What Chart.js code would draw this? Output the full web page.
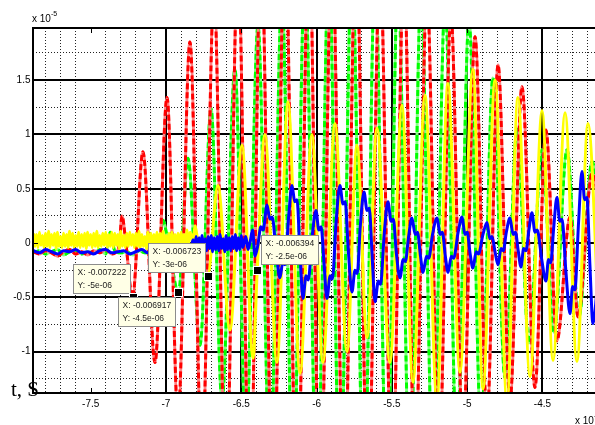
<!DOCTYPE html>
<html>
<head>
<meta charset="utf-8">
<script src="https://cdn.jsdelivr.net/npm/chart.js@4/dist/chart.umd.min.js"></script>
<style>
  html, body { margin: 0; padding: 0; background: #fff; overflow: hidden; width: 595px; height: 425px; }
  #wrap { position: relative; width: 612px; height: 425px; }
</style>
</head>
<body>
<div id="wrap"><canvas id="c" width="612" height="425"></canvas></div>
<script>
// Time axis in units of 1e-3 s, amplitude in units of 1e-5.
const X_MIN = -7.883, X_MAX = -4.118;
const Y_MIN = -1.38, Y_MAX = 1.98;

const xTickValues = [-7.5, -7, -6.5, -6, -5.5, -5, -4.5];
const xTickLabels = ['-7.5', '-7', '-6.5', '-6', '-5.5', '-5', '-4.5'];
const yTickValues = [-1, -0.5, 0, 0.5, 1, 1.5];
const yTickLabels = ['-1', '-0.5', '0', '0.5', '1', '1.5'];

// Channel 1 (red)
const redData = [
  [-7.88,-0.08],[-7.84,-0.10],[-7.80,-0.07],[-7.76,-0.09],[-7.72,-0.12],[-7.68,-0.08],[-7.64,-0.06],
  [-7.60,-0.10],[-7.56,-0.08],[-7.52,-0.11],[-7.48,-0.07],[-7.44,-0.09],[-7.40,-0.06],[-7.36,-0.10],
  [-7.33,-0.08],[-7.31,-0.02],[-7.292,0.25],[-7.27,0.05],[-7.222,-0.5],[-7.153,0.84],[-7.073,-1.1],
  [-6.993,1.34],[-6.920,-1.6],[-6.841,1.85],[-6.761,-2.0],[-6.681,2.3],[-6.602,-2.3],[-6.522,2.6],
  [-6.442,-2.5],[-6.369,2.8],[-6.289,-2.6],[-6.210,2.9],[-6.130,-2.6],[-6.050,2.9],[-5.977,-2.6],
  [-5.898,2.8],[-5.818,-2.5],[-5.738,2.8],[-5.659,-2.4],[-5.579,2.6],[-5.499,-2.3],[-5.420,2.5],
  [-5.347,-2.1],[-5.267,2.3],[-5.187,-2.0],[-5.108,2.1],[-5.028,-1.8],[-4.948,1.9],[-4.868,-1.6],
  [-4.795,1.64],[-4.716,-1.45],[-4.636,1.44],[-4.550,-1.33],[-4.477,1.04],[-4.404,-0.9],[-4.317,0.24],
  [-4.264,-0.68],[-4.171,0.64],[-4.10,0.1]
];

// Channel 2 (green)
const greenData = [
  [-7.88,-0.09],[-7.84,-0.07],[-7.80,-0.10],[-7.76,-0.08],[-7.72,-0.06],[-7.68,-0.11],[-7.64,-0.08],
  [-7.60,-0.07],[-7.56,-0.10],[-7.52,-0.08],[-7.48,-0.09],[-7.44,-0.06],[-7.40,-0.10],[-7.37,0.10],
  [-7.34,-0.07],[-7.30,-0.09],[-7.26,-0.08],[-7.22,-0.11],[-7.18,-0.07],[-7.14,-0.09],[-7.10,-0.08],
  [-7.06,-0.06],[-7.04,0.05],[-7.02,0.21],[-6.99,0.04],[-6.917,-0.45],[-6.854,0.78],[-6.774,-0.94],
  [-6.701,1.24],[-6.628,-1.45],[-6.542,1.6],[-6.469,-1.8],[-6.389,2.0],[-6.309,-2.1],[-6.230,2.3],
  [-6.157,-2.3],[-6.077,2.5],[-5.997,-2.4],[-5.918,2.6],[-5.845,-2.4],[-5.765,2.6],[-5.685,-2.4],
  [-5.612,2.5],[-5.533,-2.3],[-5.460,2.4],[-5.380,-2.2],[-5.307,2.3],[-5.227,-2.1],[-5.147,2.2],
  [-5.068,-1.9],[-4.988,2.05],[-4.908,-1.7],[-4.829,1.52],[-4.749,-1.24],[-4.669,1.05],[-4.590,-0.92],
  [-4.503,0.86],[-4.424,-0.82],[-4.337,0.86],[-4.258,-0.68],[-4.171,0.75],[-4.10,0.0]
];

// Channel 3 (yellow): pre-onset samples, uniform step from ONSET_T0
const ONSET_T0 = -7.88, ONSET_DT = 0.01;
const yellowOnset = [
  0.09,-0.03,0.08,-0.04,0.10,-0.02,0.07,-0.04,0.09,-0.03,
  0.11,-0.04,0.08,-0.02,0.09,-0.05,0.10,-0.03,0.06,-0.04,
  0.09,-0.03,0.08,-0.04,0.11,-0.02,0.09,-0.04,0.07,-0.03,
  0.10,-0.04,0.08,-0.03,0.09,-0.05,0.10,-0.02,0.08,-0.04,
  0.09,-0.03,0.11,-0.04,0.07,-0.03,0.09,-0.02,0.10,-0.04,
  0.08,-0.03,0.10,-0.04,0.09,-0.02,0.08,-0.05,0.11,-0.03,
  0.07,-0.04,0.09,-0.03,0.10,-0.02,0.08,-0.04,0.09,-0.03,
  0.11,-0.04,0.08,-0.03,0.06,-0.05,0.10,-0.02,0.09,-0.04,
  0.08,-0.03,0.10,-0.04,0.09,-0.02,0.11,-0.04,0.07,-0.03,
  0.09,-0.05,0.10,-0.03,0.08,-0.02,0.09,-0.04,0.10,-0.03,
  0.08,-0.04,0.12,-0.02,0.10
];
const yellowData = [
  [-6.82,0.02],[-6.807,0.16],[-6.79,0.03],
  [-6.723,-0.3],[-6.655,0.53],[-6.575,-0.8],[-6.495,0.9],[-6.422,-1.06],[-6.394,-0.25],[-6.343,1.0],
  [-6.263,-1.1],[-6.190,1.3],[-6.110,-1.2],[-6.031,1.0],[-5.958,-1.1],[-5.878,1.1],[-5.798,-1.0],
  [-5.732,0.9],[-5.665,-0.87],[-5.599,1.06],[-5.513,-1.1],[-5.433,1.27],[-5.360,-1.28],[-5.280,1.36],
  [-5.201,-1.45],[-5.128,1.47],[-5.048,-1.19],[-4.962,1.6],[-4.895,-1.34],[-4.815,1.5],[-4.736,-1.45],
  [-4.663,1.34],[-4.583,-1.23],[-4.503,1.22],[-4.430,-1.08],[-4.350,1.2],[-4.271,-1.09],[-4.198,1.1],
  [-4.118,-1.0]
];

// Channel 4 (blue): quiet baseline, noisy band from BAND_T0, then oscillation
const blueBaseline = [
  [-7.88,-0.07],[-7.84,-0.09],[-7.80,-0.06],[-7.76,-0.08],[-7.72,-0.10],[-7.68,-0.07],[-7.64,-0.08],
  [-7.60,-0.06],[-7.56,-0.09],[-7.52,-0.08],[-7.48,-0.10],[-7.44,-0.07],[-7.40,-0.06],[-7.36,-0.09],
  [-7.32,-0.08],[-7.28,-0.07],[-7.24,-0.10],[-7.20,-0.08],[-7.16,-0.06],[-7.12,-0.09],[-7.08,-0.07],
  [-7.04,-0.08],[-7.00,-0.10],[-6.96,-0.07],[-6.92,-0.09],[-6.88,-0.06],[-6.84,-0.08]
];
const BAND_T0 = -6.82, BAND_DT = 0.01;
const blueBand = [
  0.03,-0.07,0.06,-0.05,0.05,-0.08,0.07,-0.06,0.04,-0.07,
  0.06,-0.05,0.07,-0.08,0.05,-0.06,0.06,-0.07,0.08,-0.05,
  0.04,-0.08,0.07,-0.06,0.05,-0.07,0.06,-0.05,0.08,-0.07,
  0.05,-0.06,0.07,-0.04
];
const blueOsc = [
  [-6.47,0.06],[-6.455,-0.06],[-6.44,0.02],[-6.425,0.12],[-6.409,-0.12],[-6.39,-0.02],[-6.37,0.15],
  [-6.355,0.12],[-6.329,0.35],[-6.31,0.22],[-6.295,0.24],[-6.27,-0.05],[-6.243,-0.32],[-6.225,-0.18],
  [-6.21,-0.2],[-6.185,0.25],[-6.163,0.53],[-6.145,0.38],[-6.13,0.4],[-6.11,-0.1],[-6.090,-0.51],
  [-6.07,-0.3],[-6.055,-0.34],[-6.03,0.05],[-6.004,0.30],[-5.985,0.12],[-5.97,0.15],[-5.95,-0.2],
  [-5.931,-0.51],[-5.91,-0.3],[-5.895,-0.33],[-5.87,0.2],[-5.845,0.53],[-5.825,0.36],[-5.81,0.38],
  [-5.79,-0.05],[-5.765,-0.45],[-5.745,-0.25],[-5.73,-0.28],[-5.71,0.15],[-5.685,0.47],[-5.665,0.3],
  [-5.65,0.32],[-5.63,-0.15],[-5.612,-0.54],[-5.59,-0.35],[-5.575,-0.38],[-5.55,0.1],[-5.526,0.38],
  [-5.505,0.2],[-5.49,0.22],[-5.47,-0.1],[-5.446,-0.32],[-5.425,-0.15],[-5.41,-0.17],[-5.39,0.05],
  [-5.367,0.23],[-5.345,0.08],[-5.33,0.1],[-5.31,-0.12],[-5.293,-0.27],[-5.27,-0.12],[-5.255,-0.14],
  [-5.23,0.08],[-5.200,0.23],[-5.18,0.08],[-5.165,0.1],[-5.145,-0.12],[-5.127,-0.27],[-5.105,-0.12],
  [-5.09,-0.14],[-5.06,0.1],[-5.034,0.24],[-5.015,0.08],[-5.0,0.1],[-4.98,-0.1],[-4.962,-0.23],
  [-4.94,-0.08],[-4.925,-0.1],[-4.895,0.08],[-4.868,0.19],[-4.85,0.04],[-4.835,0.06],[-4.815,-0.08],
  [-4.795,-0.2],[-4.775,-0.05],[-4.76,-0.07],[-4.74,0.1],[-4.716,0.23],[-4.695,0.08],[-4.68,0.1],
  [-4.66,-0.08],[-4.643,-0.22],[-4.625,-0.05],[-4.61,-0.07],[-4.59,0.12],[-4.570,0.28],[-4.55,0.1],
  [-4.535,0.12],[-4.505,-0.15],[-4.477,-0.35],[-4.46,-0.15],[-4.445,-0.18],[-4.425,0.15],[-4.404,0.42],
  [-4.385,0.2],[-4.37,0.22],[-4.345,-0.25],[-4.317,-0.65],[-4.3,-0.4],[-4.285,-0.43],[-4.26,0.2],
  [-4.238,0.66],[-4.22,0.4],[-4.205,0.42],[-4.185,-0.2],[-4.165,-0.74],[-4.13,-0.3],[-4.10,0.1]
];

// Data cursors (seconds, raw amplitude)
const tipX = [-0.007222, -0.006917, -0.006723, -0.006394];
const tipY = [-5e-6, -4.5e-6, -3e-6, -2.5e-6];
const tipSide = ['nw', 'sw', 'nw', 'ne'];

const toPts = arr => arr.map(p => ({ x: p[0], y: p[1] }));
const uniform = (t0, dt, vals) => vals.map((v, i) => ({ x: +(t0 + i * dt).toFixed(4), y: v }));

const yellowPts = uniform(ONSET_T0, ONSET_DT, yellowOnset).concat(toPts(yellowData));
const bluePts = toPts(blueBaseline).concat(uniform(BAND_T0, BAND_DT, blueBand), toPts(blueOsc));

function lineSet(points, color, width, dash) {
  return {
    data: points,
    borderColor: color,
    borderWidth: width,
    borderDash: dash || [],
    pointRadius: 0,
    fill: false,
    cubicInterpolationMode: 'monotone'
  };
}

// Minor grid positions between the major ticks
const minorX = [];
for (let k = -78; k <= -42; k++) { if (k % 5 !== 0) minorX.push(k / 10); }
const minorY = [-1.25, -0.75, -0.25, 0.25, 0.75, 1.25, 1.75];

function fmtExp(v) {
  const parts = v.toExponential().split('e');
  const e = parts[1];
  return parts[0] + 'e' + e[0] + e.slice(1).padStart(2, '0');
}

const decorations = {
  id: 'decorations',
  afterDatasetsDraw(chart) {
    const { ctx, chartArea: a, scales } = chart;
    const xs = scales.x, ys = scales.y;
    ctx.save();

    // axes box
    ctx.strokeStyle = '#000';
    ctx.lineWidth = 2;
    ctx.strokeRect(a.left, a.top, a.right - a.left, a.bottom - a.top);

    // inward tick marks
    ctx.lineWidth = 1;
    ctx.beginPath();
    xTickValues.forEach(v => {
      const px = Math.round(xs.getPixelForValue(v)) + 0.5;
      ctx.moveTo(px, a.bottom); ctx.lineTo(px, a.bottom - 5);
      ctx.moveTo(px, a.top); ctx.lineTo(px, a.top + 5);
    });
    yTickValues.forEach(v => {
      const py = Math.round(ys.getPixelForValue(v)) + 0.5;
      ctx.moveTo(a.left, py); ctx.lineTo(a.left + 5, py);
    });
    ctx.stroke();

    // tick labels
    ctx.fillStyle = '#000';
    ctx.font = '10px "Liberation Sans", Arial, sans-serif';
    ctx.textBaseline = 'middle';
    ctx.textAlign = 'center';
    xTickValues.forEach((v, i) => ctx.fillText(xTickLabels[i], xs.getPixelForValue(v), a.bottom + 11));
    ctx.textAlign = 'right';
    yTickValues.forEach((v, i) => ctx.fillText(yTickLabels[i], a.left - 2.5, ys.getPixelForValue(v)));

    // axis multipliers
    ctx.textAlign = 'left';
    ctx.textBaseline = 'alphabetic';
    ctx.font = '10px "Liberation Sans", Arial, sans-serif';
    ctx.fillText('x 10', a.left - 1, 22);
    let w = ctx.measureText('x 10').width;
    ctx.font = '7px "Liberation Sans", Arial, sans-serif';
    ctx.fillText('-5', a.left - 1 + w, 16);
    ctx.font = '10px "Liberation Sans", Arial, sans-serif';
    ctx.fillText('x 10', a.right - 25, 424);
    w = ctx.measureText('x 10').width;
    ctx.font = '7px "Liberation Sans", Arial, sans-serif';
    ctx.fillText('-3', a.right - 25 + w, 418);

    // data cursors
    ctx.font = '8.5px "Liberation Sans", Arial, sans-serif';
    tipX.forEach((tx, i) => {
      const mx = xs.getPixelForValue(tx * 1e3);
      const my = ys.getPixelForValue(tipY[i] * 1e5);
      const l1 = 'X: ' + String(tx);
      const l2 = 'Y: ' + fmtExp(tipY[i]);
      const tw = Math.max(ctx.measureText(l1).width, ctx.measureText(l2).width);
      const bw = Math.round(tw + 8), bh = 29;
      let bx, by;
      if (tipSide[i] === 'nw') { bx = mx - 3 - bw; by = my - 4 - bh; }
      else if (tipSide[i] === 'sw') { bx = mx - 3 - bw; by = my + 5; }
      else { bx = mx + 4; by = my - 6 - bh; }
      bx = Math.round(bx) + 0.5; by = Math.round(by) + 0.5;
      ctx.fillStyle = '#ffffe6';
      ctx.fillRect(bx, by, bw, bh);
      ctx.strokeStyle = '#8c8c8c';
      ctx.lineWidth = 1;
      ctx.strokeRect(bx, by, bw, bh);
      ctx.fillStyle = '#222';
      ctx.textAlign = 'left';
      ctx.textBaseline = 'middle';
      ctx.fillText(l1, bx + 4, by + 8);
      ctx.fillText(l2, bx + 4, by + 21);
      // marker
      ctx.fillStyle = '#000';
      ctx.fillRect(Math.round(mx) - 3, Math.round(my) - 3, 7, 7);
      ctx.strokeStyle = '#fff';
      ctx.strokeRect(Math.round(mx) - 3.5, Math.round(my) - 3.5, 8, 8);
    });

    // time axis caption
    ctx.fillStyle = '#000';
    ctx.font = '21px "Liberation Serif", "Times New Roman", serif';
    ctx.textAlign = 'left';
    ctx.textBaseline = 'alphabetic';
    ctx.fillText('t, S', 11, 396);

    ctx.restore();
  }
};

const hidden = { display: false };

new Chart(document.getElementById('c'), {
  type: 'line',
  data: {
    datasets: [
      lineSet(bluePts, '#0000ff', 3),
      lineSet(yellowPts, '#ffff00', 3),
      lineSet(toPts(redData), '#ff0000', 3, [6, 3]),
      lineSet(toPts(redData), '#ff8080', 3),
      lineSet(toPts(greenData), '#00ff00', 3, [6, 3]),
      lineSet(toPts(greenData), '#80ff80', 3)
    ]
  },
  options: {
    responsive: false,
    animation: false,
    events: [],
    layout: { padding: { left: 33, top: 28, right: 12, bottom: 32 } },
    plugins: { legend: hidden, tooltip: { enabled: false }, title: hidden },
    scales: {
      x: {
        type: 'linear', position: 'bottom', min: X_MIN, max: X_MAX,
        ticks: { display: false },
        border: { display: false },
        grid: {
          drawTicks: false, lineWidth: 2,
          color: c => (c.tick && c.tick.value === -7.5) ? 'rgba(0,0,0,0)' : '#000'
        },
        afterBuildTicks: axis => { axis.ticks = xTickValues.map(v => ({ value: v })); }
      },
      xm: {
        type: 'linear', position: 'bottom', min: X_MIN, max: X_MAX,
        ticks: { display: false },
        border: { display: false, dash: [1, 2] },
        grid: { drawTicks: false, lineWidth: 1, color: '#222' },
        afterBuildTicks: axis => { axis.ticks = minorX.map(v => ({ value: v })); }
      },
      y: {
        type: 'linear', position: 'left', min: Y_MIN, max: Y_MAX,
        ticks: { display: false },
        border: { display: false },
        grid: { drawTicks: false, lineWidth: 2, color: '#000' },
        afterBuildTicks: axis => { axis.ticks = yTickValues.map(v => ({ value: v })); }
      },
      ym: {
        type: 'linear', position: 'left', min: Y_MIN, max: Y_MAX,
        ticks: { display: false },
        border: { display: false, dash: [1, 2] },
        grid: { drawTicks: false, lineWidth: 1, color: '#222' },
        afterBuildTicks: axis => { axis.ticks = minorY.map(v => ({ value: v })); }
      }
    }
  },
  plugins: [decorations]
});
</script>
</body>
</html>
